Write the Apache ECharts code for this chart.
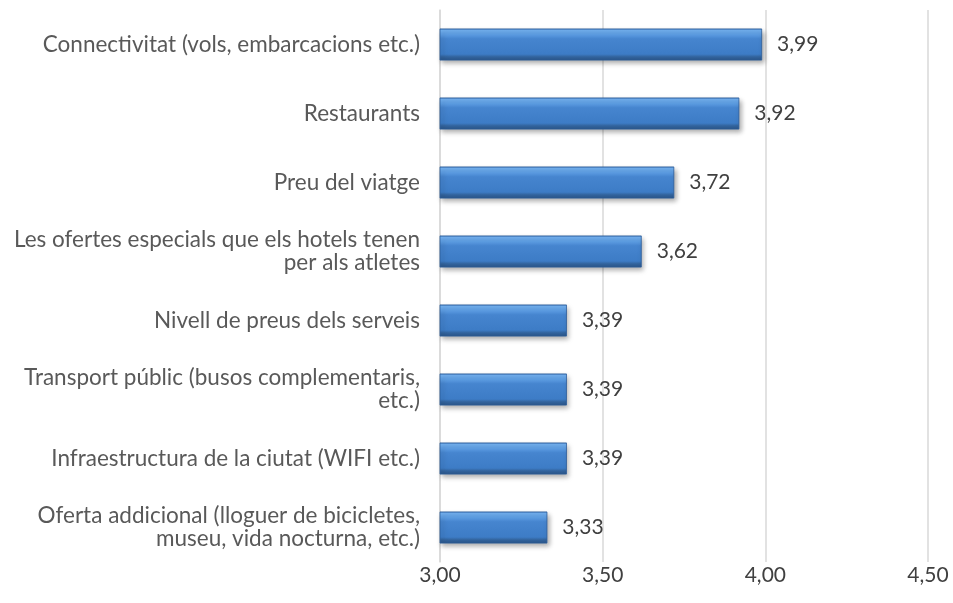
<!DOCTYPE html>
<html><head><meta charset="utf-8">
<script src="https://cdn.jsdelivr.net/npm/echarts@6/dist/echarts.min.js"></script>
<style>html,body{margin:0;padding:0;background:#fff}#c{width:953px;height:603px}</style>
</head><body><div id="c"></div>
<script>
const categories = [
  "Connectivitat (vols, embarcacions etc.)",
  "Restaurants",
  "Preu del viatge",
  "Les ofertes especials que els hotels tenen\nper als atletes",
  "Nivell de preus dels serveis",
  "Transport públic (busos complementaris,\netc.)",
  "Infraestructura de la ciutat (WIFI etc.)",
  "Oferta addicional (lloguer de bicicletes,\nmuseu, vida nocturna, etc.)"
];
const values = [3.99, 3.92, 3.72, 3.62, 3.39, 3.39, 3.39, 3.33];
const xTicks = [3.00, 3.50, 4.00, 4.50];

const chart = echarts.init(document.getElementById('c'));
const font = 'Lato, "Open Sans", sans-serif';
chart.setOption({
  animation: false,
  grid: {left: 440, right: 25, top: 10, bottom: 41, containLabel: false},
  xAxis: {
    type: 'value', min: xTicks[0], max: xTicks[xTicks.length-1], interval: 0.5,
    axisLine: {show: false}, axisTick: {show: false},
    splitLine: {show: true, lineStyle: {color: '#d9d9d9', width: 1.5}},
    axisLabel: {color: '#404040', fontSize: 21, fontFamily: font, margin: 3,
      formatter: v => v.toFixed(2).replace('.', ',')}
  },
  yAxis: {
    type: 'category', data: categories.slice().reverse(), inverse: false,
    axisLine: {show: true, lineStyle: {color: '#d9d9d9', width: 1.5}}, axisTick: {show: false},
    axisLabel: {color: '#595959', fontSize: 22.5, fontFamily: font, margin: 20, lineHeight: 23, align: 'right'}
  },
  series: [{
    type: 'bar', data: values.slice().reverse(), barWidth: 32,
    itemStyle: {
      color: new echarts.graphic.LinearGradient(0, 0, 0, 1, [
        {offset: 0, color: '#3a70b5'},
        {offset: 0.05, color: '#74b2f2'},
        {offset: 0.2, color: '#5c9de4'},
        {offset: 0.32, color: '#4685cf'},
        {offset: 0.8, color: '#3d7cc6'},
        {offset: 0.88, color: '#33659f'},
        {offset: 1, color: '#2a5488'}
      ]),
      borderColor: '#2c5d9a', borderWidth: 0.8,
      shadowColor: 'rgba(0,0,0,0.35)', shadowBlur: 5, shadowOffsetX: 2, shadowOffsetY: 3
    },
    label: {show: true, position: 'right', distance: 15, color: '#404040', fontSize: 21, fontFamily: font,
      formatter: p => p.value.toFixed(2).replace('.', ',')}
  }]
});
</script></body></html>
